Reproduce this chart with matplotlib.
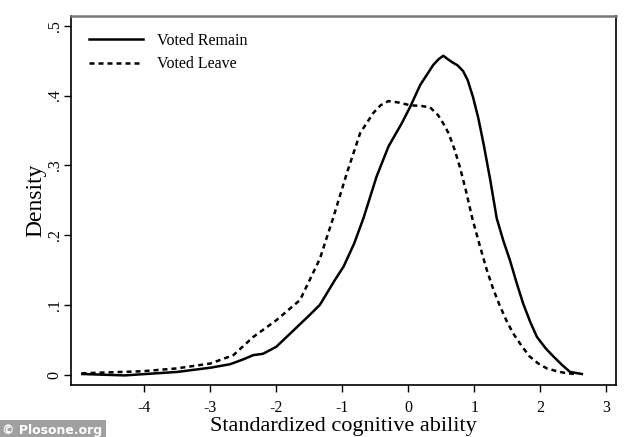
import matplotlib
matplotlib.use("Agg")
import matplotlib.pyplot as plt

plt.rcParams['font.family'] = ['Liberation Serif', 'DejaVu Serif']

# density curves
remain_x = [-4.94, -4.3, -3.5, -3.0, -2.7, -2.5, -2.35, -2.2, -2.0, -1.8, -1.5, -1.34, -1.11, -0.98,
            -0.82, -0.68, -0.48, -0.30, -0.10, 0.03, 0.18, 0.38, 0.46, 0.53, 0.60, 0.66, 0.75, 0.83,
            0.90, 0.98, 1.06, 1.14, 1.24, 1.34, 1.44, 1.54, 1.64, 1.74, 1.85, 1.95, 2.08, 2.20,
            2.33, 2.45, 2.63]
remain_y = [0.001, -0.001, 0.004, 0.010, 0.015, 0.022, 0.028, 0.030, 0.040, 0.058, 0.085, 0.100, 0.136, 0.155,
            0.188, 0.224, 0.284, 0.327, 0.360, 0.384, 0.415, 0.444, 0.452, 0.457, 0.452, 0.448, 0.443, 0.435,
            0.422, 0.398, 0.368, 0.331, 0.280, 0.224, 0.192, 0.164, 0.132, 0.102, 0.075, 0.054, 0.038, 0.026,
            0.014, 0.004, 0.001]

leave_x = [-4.95, -4.02, -3.51, -3.0, -2.65, -2.35, -2.0, -1.64, -1.34, -1.14, -0.93, -0.73, -0.53,
           -0.42, -0.30, -0.15, 0.03, 0.20, 0.33, 0.45, 0.53, 0.61, 0.70, 0.78, 0.87, 0.97, 1.08,
           1.19, 1.29, 1.39, 1.49, 1.59, 1.72, 1.84, 1.97, 2.10, 2.25, 2.40, 2.55]
leave_y = [0.002, 0.005, 0.009, 0.016, 0.028, 0.054, 0.078, 0.107, 0.166, 0.224, 0.289, 0.346, 0.375,
           0.386, 0.392, 0.390, 0.386, 0.385, 0.383, 0.372, 0.360, 0.346, 0.323, 0.298, 0.265, 0.224, 0.186,
           0.150, 0.122, 0.098, 0.077, 0.059, 0.041, 0.026, 0.016, 0.009, 0.005, 0.002, 0.001]

x_ticks = [-4, -3, -2, -1, 0, 1, 2, 3]
y_ticks = [0, 0.1, 0.2, 0.3, 0.4, 0.5]
y_labels = ["0", ".1", ".2", ".3", ".4", ".5"]

fig = plt.figure(figsize=(6.34, 4.37), dpi=100)
ax = fig.add_axes([0.112, 0.1197, 0.8596, 0.8448])

ax.plot(remain_x, remain_y, color="black", lw=1.8, label="Voted Remain")
ax.plot(leave_x, leave_y, color="black", lw=1.8, ls=(0, (2, 1.6)), label="Voted Leave")

ax.set_xlim(-5.11, 3.147)
ax.set_ylim(-0.0143, 0.5146)
ax.set_xticks(x_ticks)
ax.set_xticklabels([str(t) for t in x_ticks], fontsize=11.5)
ax.set_yticks(y_ticks)
ax.set_yticklabels(y_labels, fontsize=11.5, rotation=90, va="center")
ax.tick_params(axis="x", direction="out", length=5, width=1, pad=6)
ax.tick_params(axis="y", direction="out", length=5, width=1, pad=1)

ax.spines["top"].set_color("#777777")
for s in ax.spines.values():
    s.set_linewidth(1.2)
ax.spines["top"].set_linewidth(1.8)

ax.set_xlabel("Standardized cognitive ability", fontsize=16, labelpad=1)
ax.set_ylabel("Density", fontsize=17, labelpad=0)

ax.legend(loc="upper left", frameon=False, fontsize=11.5, handlelength=3.4,
          handletextpad=0.9, borderaxespad=0.7, labelspacing=0.45)

fig.text(0.003, 0.008, "\u00a9 Plosone.org", fontsize=9, color="white", fontweight="bold",
         family="DejaVu Sans",
         bbox=dict(facecolor="#a0a0a0", edgecolor="none", pad=2.5))

fig.savefig("out.png", dpi=100)
